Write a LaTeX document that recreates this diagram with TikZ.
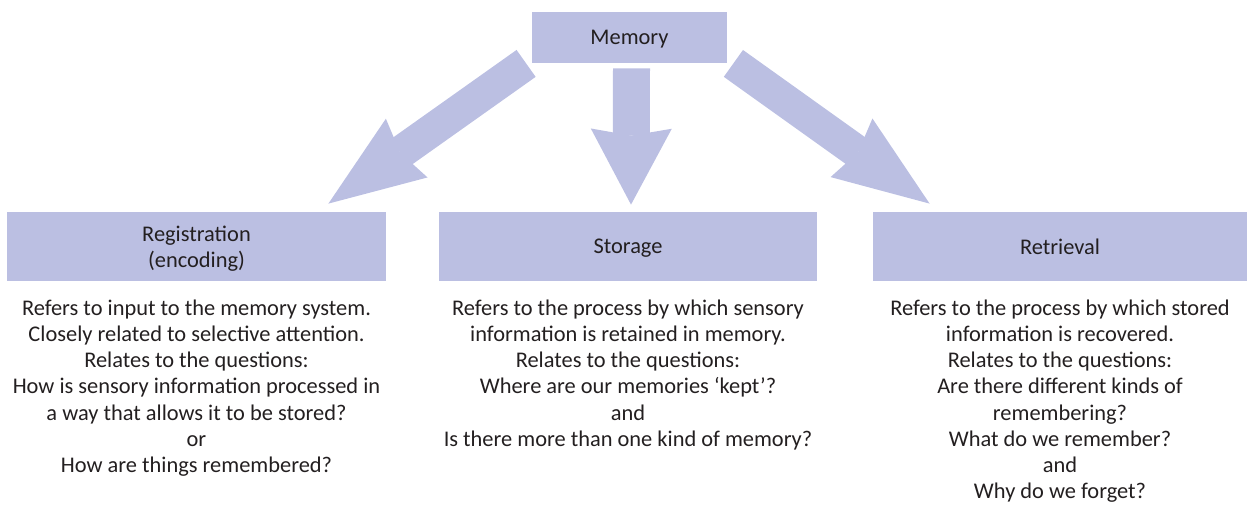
\documentclass[tikz,border=0pt]{standalone}
\usepackage{fontspec}
\setmainfont{Carlito}
\usetikzlibrary{arrows.meta,positioning}
\usepackage{xcolor}
\definecolor{memLav}{RGB}{187,191,226}
\definecolor{memInk}{RGB}{35,31,32}
\tikzset{
    stage/.style={
        fill=memLav,inner sep=0pt,align=center,text=memInk,
        text depth=0pt,minimum height=34.5pt,minimum width=#1
    },
    stage/.default=189pt,
    blurb/.style={
        align=center,inner sep=0pt,text=memInk
    },
    fatarrow/.style={
        draw=memLav,line width=16.5pt,
        -{Stealth[length=48pt,width=36pt,inset=4pt,line width=0pt]}
    },
    droparrow/.style={
        draw=memLav,line width=18.5pt,
        -{Stealth[length=38pt,width=40.5pt,inset=3.5pt,line width=0pt]}
    }
}

\begin{document}
\begin{tikzpicture}[x=0.5pt,y=-0.5pt,font=\fontsize{11.2}{13.1}\selectfont]

\useasboundingbox (0,0) rectangle (1247,505);

\node[stage=97.5pt,minimum height=25.5pt] (mem) at (629.5,37.5) {Memory};

\node[stage=189.5pt] (reg) at (196.5,246.5) {Registration\\(encoding)};
\node[stage] (sto) at (628,246.5) {Storage};
\node[stage=187pt] (ret) at (1060,246.5) {Retrieval};

\node[blurb,below=9pt of reg] (regtxt)
{Refers to input to the memory system.\\
Closely related to selective attention.\\
Relates to the questions:\\
How is sensory information processed in\\
a way that allows it to be stored?\\
or\\
How are things remembered?};

\node[blurb,below=9pt of sto] (stotxt)
{Refers to the process by which sensory\\
information is retained in memory.\\
Relates to the questions:\\
Where are our memories `kept'?\\
and\\
Is there more than one kind of memory?};

\node[blurb,below=9pt of ret] (rettxt)
{Refers to the process by which stored\\
information is recovered.\\
Relates to the questions:\\
Are there different kinds of\\
remembering?\\
What do we remember?\\
and\\
Why do we forget?};

% arrow ends
\coordinate (lftTail) at ([shift={(-5.5,0)}]mem.south west);
\coordinate (lftHead) at ([shift={(-58,-8)}]reg.north east);
\coordinate (midTail) at ([shift={(2,5)}]mem.south);
\coordinate (midHead) at ([shift={(3,-7)}]sto.north);
\coordinate (rgtTail) at ([shift={(6,0)}]mem.south east);
\coordinate (rgtHead) at ([shift={(57,-8)}]ret.north west);

\draw[fatarrow] (lftTail) -- (lftHead);
\draw[droparrow] (midTail) -- (midHead);
\draw[fatarrow] (rgtTail) -- (rgtHead);

\end{tikzpicture}
\end{document}
